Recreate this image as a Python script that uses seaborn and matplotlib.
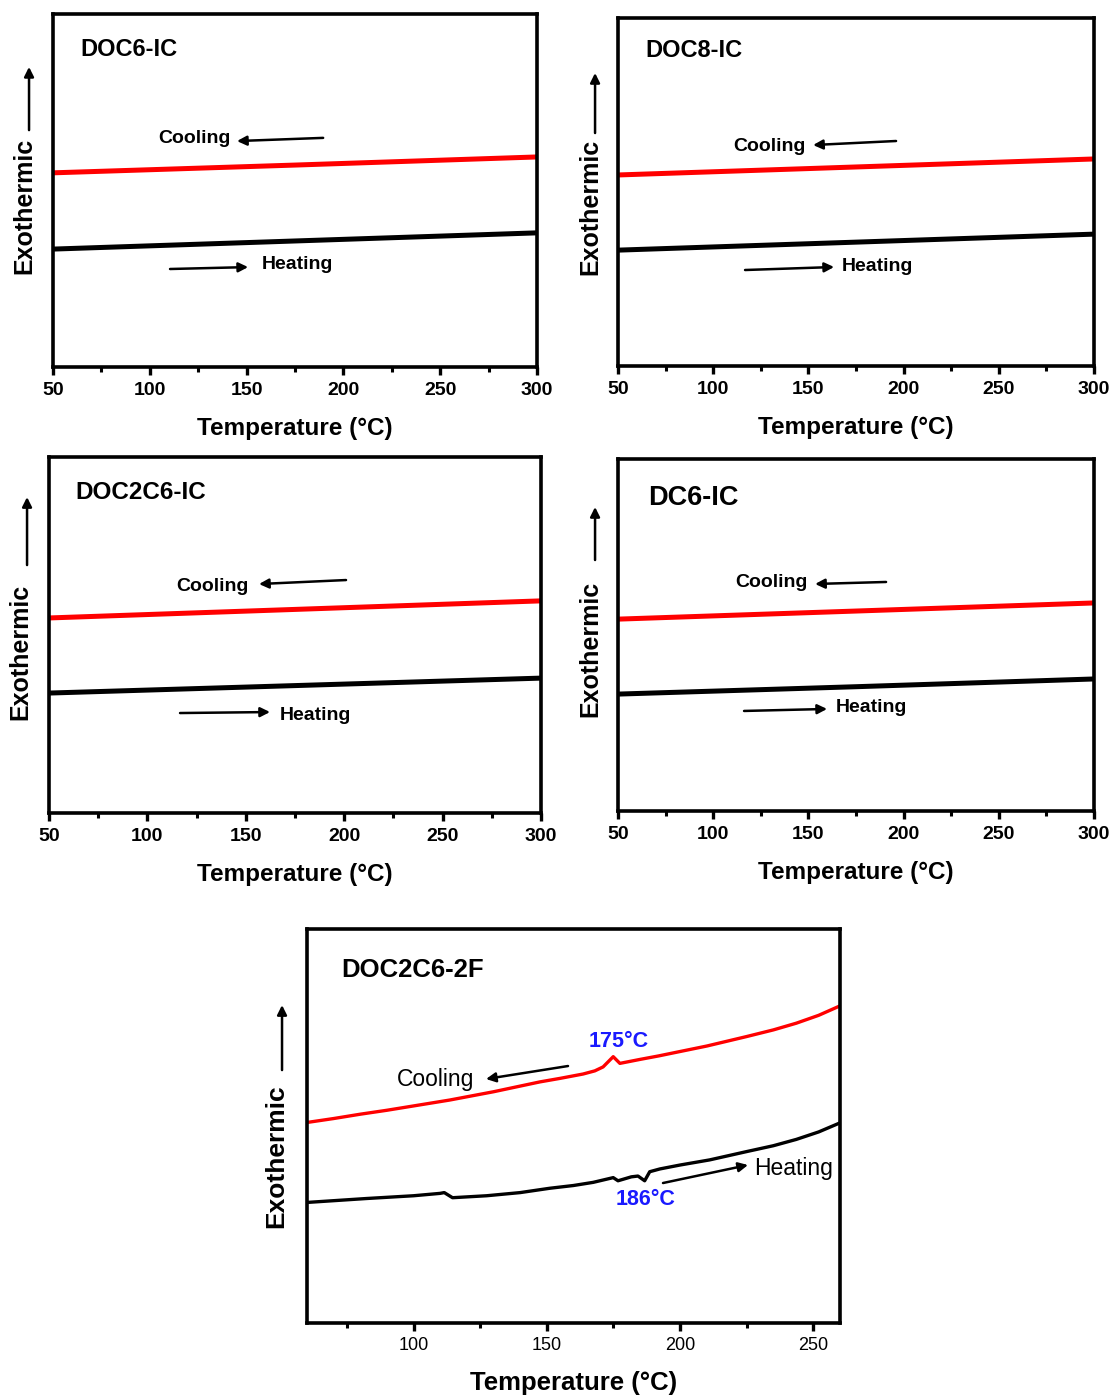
import numpy as np
import pandas as pd
import matplotlib
matplotlib.use("Agg")
import matplotlib.pyplot as plt
import seaborn as sns

# ---------------- data ----------------
temps_ic = [50, 175, 300]
doc6_cool = [0.550, 0.572, 0.595]
doc6_heat = [0.334, 0.357, 0.380]
doc8_cool = [0.549, 0.572, 0.595]
doc8_heat = [0.333, 0.356, 0.379]
doc2c6_cool = [0.548, 0.572, 0.596]
doc2c6_heat = [0.337, 0.358, 0.379]
dc6_cool = [0.545, 0.568, 0.591]
dc6_heat = [0.332, 0.353, 0.375]

f_cool_T = [60, 70, 80, 90, 100, 113.6, 130, 147.4, 155, 163.6, 168, 171.1, 173.0, 174.9, 177.4,
            184.9, 192, 199.9, 210, 224.9, 235, 243.6, 252, 260]
f_cool_y = [0.509, 0.519, 0.530, 0.540, 0.551, 0.566, 0.587, 0.612, 0.621, 0.632, 0.640, 0.650,
            0.663, 0.676, 0.659, 0.669, 0.678, 0.689, 0.703, 0.727, 0.744, 0.761, 0.781, 0.805]
f_heat_T = [60, 82.4, 100, 109.9, 111.5, 114.6, 127.4, 140, 151.1, 160, 167.4, 174.9, 176.7,
            181.7, 184.2, 186.7, 188.6, 192.4, 200, 211.1, 224.9, 235, 243.6, 252, 260]
f_heat_y = [0.306, 0.316, 0.323, 0.329, 0.331, 0.318, 0.323, 0.331, 0.342, 0.349, 0.357, 0.369,
            0.361, 0.371, 0.373, 0.361, 0.384, 0.391, 0.401, 0.414, 0.435, 0.450, 0.466, 0.485,
            0.508]

titles = ["DOC6-IC", "DOC8-IC", "DOC2C6-IC", "DC6-IC", "DOC2C6-2F"]
peak_labels = ["175°C", "186°C"]
xlabel = "Temperature (°C)"
ylabel = "Exothermic"

# ---------------- style ----------------
sns.set_theme(style="ticks")
plt.rcParams['font.family'] = ['Liberation Sans', 'DejaVu Sans']
plt.rcParams['text.color'] = 'black'
plt.rcParams['axes.labelcolor'] = 'black'
plt.rcParams['xtick.color'] = 'black'
plt.rcParams['ytick.color'] = 'black'

fig = plt.figure(figsize=(11.12, 13.96), dpi=100)

RED = "#ff0000"

def make_ax(rect, T, cool, heat, xlim, major, minor, lw, title, title_size, layout,
            tick_size=14, tick_bold=True, label_size=17.5, ylab_size=18, text_size=14,
            text_bold=True, labelpad=13.5, tickpad=5):
    ax = fig.add_axes(rect)
    df = pd.DataFrame({"T": list(T[0]) + list(T[1]),
                       "y": list(cool) + list(heat),
                       "run": ["Cooling"] * len(cool) + ["Heating"] * len(heat)})
    sns.lineplot(data=df, x="T", y="y", hue="run", palette={"Cooling": RED, "Heating": "black"},
                 linewidth=lw, ax=ax, legend=False, sort=True, estimator=None)
    ax.set_xlim(*xlim)
    ax.set_ylim(0, 1)
    ax.set_xticks(major)
    ax.set_xticks(minor, minor=True)
    ax.set_yticks([])
    for s in ax.spines.values():
        s.set_linewidth(2.6)
        s.set_color("black")
    ax.tick_params(axis="x", which="major", direction="out", length=5.5, width=2.4,
                   labelsize=tick_size, pad=tickpad, color="black", labelcolor="black")
    ax.tick_params(axis="x", which="minor", direction="out", length=3.5, width=2.2, color="black")
    for lab in ax.get_xticklabels():
        lab.set_fontweight("bold" if tick_bold else "normal")
    ax.set_xlabel(xlabel, fontsize=label_size, fontweight="bold", labelpad=labelpad)
    ax.set_ylabel("")
    tw = "bold" if text_bold else "medium"
    ax.text(layout["title"][0], layout["title"][1], title, transform=ax.transAxes,
            fontsize=title_size, fontweight="bold", ha="left", va="center")
    ax.text(layout["cool_txt"][0], layout["cool_txt"][1], "Cooling", transform=ax.transAxes,
            fontsize=text_size, fontweight=tw, ha="right", va="center")
    ax.text(layout["heat_txt"][0], layout["heat_txt"][1], "Heating", transform=ax.transAxes,
            fontsize=text_size, fontweight=tw, ha="left", va="center")
    ap = dict(arrowstyle="-|>", color="black", lw=1.8, mutation_scale=14,
              shrinkA=0, shrinkB=0)
    ax.annotate("", xy=layout["cool_head"], xytext=layout["cool_tail"],
                xycoords="axes fraction", arrowprops=ap)
    ax.annotate("", xy=layout["heat_head"], xytext=layout["heat_tail"],
                xycoords="axes fraction", arrowprops=ap)
    ex = layout["exo"]
    ax.text(ex[0], ex[1], ylabel, transform=ax.transAxes, rotation=90,
            fontsize=ylab_size, fontweight="bold", ha="center", va="center")
    ax.annotate("", xy=(ex[2], ex[4]), xytext=(ex[2], ex[3]), xycoords="axes fraction",
                annotation_clip=False,
                arrowprops=dict(arrowstyle="-|>", color="black", lw=1.8, mutation_scale=14,
                                shrinkA=0, shrinkB=0))
    return ax

maj = [50, 100, 150, 200, 250, 300]
mnr = [75, 125, 175, 225, 275]

L1 = dict(title=(0.0558, 0.898), cool_txt=(0.366, 0.646), cool_tail=(0.558, 0.649),
          cool_head=(0.380, 0.640), heat_tail=(0.2417, 0.2776), heat_head=(0.403, 0.283),
          heat_txt=(0.432, 0.289), exo=(-0.060, 0.456, -0.0496, 0.671, 0.850))
L2 = dict(title=(0.0567, 0.908), cool_txt=(0.395, 0.632), cool_tail=(0.584, 0.6466),
          cool_head=(0.4097, 0.635), heat_tail=(0.2668, 0.2759), heat_head=(0.4538, 0.2845),
          heat_txt=(0.4706, 0.287), exo=(-0.0588, 0.457, -0.0483, 0.6695, 0.842))
L3 = dict(title=(0.0528, 0.9017), cool_txt=(0.4065, 0.6376), cool_tail=(0.6037, 0.6545),
          cool_head=(0.4268, 0.6433), heat_tail=(0.2663, 0.2809), heat_head=(0.4492, 0.2837),
          heat_txt=(0.4695, 0.2753), exo=(-0.0589, 0.4537, -0.0447, 0.6966, 0.8876))
L4 = dict(title=(0.063, 0.889), cool_txt=(0.399, 0.6477), cool_tail=(0.563, 0.6506),
          cool_head=(0.4139, 0.6449), heat_tail=(0.2647, 0.2841), heat_head=(0.4391, 0.2898),
          heat_txt=(0.458, 0.2926), exo=(-0.0588, 0.4616, -0.0483, 0.713, 0.8636))
L5 = dict(title=(0.0638, 0.896), cool_txt=(0.3133, 0.6193), cool_tail=(0.4897, 0.6523),
          cool_head=(0.3358, 0.6193), heat_tail=(0.6679, 0.3553), heat_head=(0.8274, 0.401),
          heat_txt=(0.8386, 0.3934), exo=(-0.0582, 0.4226, -0.0469, 0.642, 0.807))

make_ax([0.0477, 0.7371, 0.4353, 0.2529], (temps_ic, temps_ic), doc6_cool, doc6_heat,
        (50, 300), maj, mnr, 3.6, titles[0], 17, L1)
make_ax([0.5558, 0.7378, 0.4281, 0.2493], (temps_ic, temps_ic), doc8_cool, doc8_heat,
        (50, 300), maj, mnr, 3.6, titles[1], 17, L2)
make_ax([0.0441, 0.4176, 0.4424, 0.2550], (temps_ic, temps_ic), doc2c6_cool, doc2c6_heat,
        (50, 300), maj, mnr, 3.6, titles[2], 17.5, L3)
make_ax([0.5558, 0.4191, 0.4281, 0.2521], (temps_ic, temps_ic), dc6_cool, dc6_heat,
        (50, 300), maj, mnr, 3.6, titles[3], 19.5, L4)
ax5 = make_ax([0.2761, 0.0523, 0.4793, 0.2822], (f_cool_T, f_heat_T), f_cool_y, f_heat_y,
              (60, 260), [100, 150, 200, 250], [75, 125, 175, 225], 2.4, titles[4], 18.5, L5,
              tick_size=13, tick_bold=False, label_size=18.5, ylab_size=19, text_size=16.5,
              text_bold=False, labelpad=12, tickpad=4.5)
ax5.text(0.5854, 0.7157, peak_labels[0], transform=ax5.transAxes, color="#1a1aff",
         fontsize=15.5, fontweight="bold", ha="center", va="center")
ax5.text(0.636, 0.3147, peak_labels[1], transform=ax5.transAxes, color="#1a1aff",
         fontsize=15.5, fontweight="bold", ha="center", va="center")

fig.savefig("out.png", dpi=100, facecolor="white")
